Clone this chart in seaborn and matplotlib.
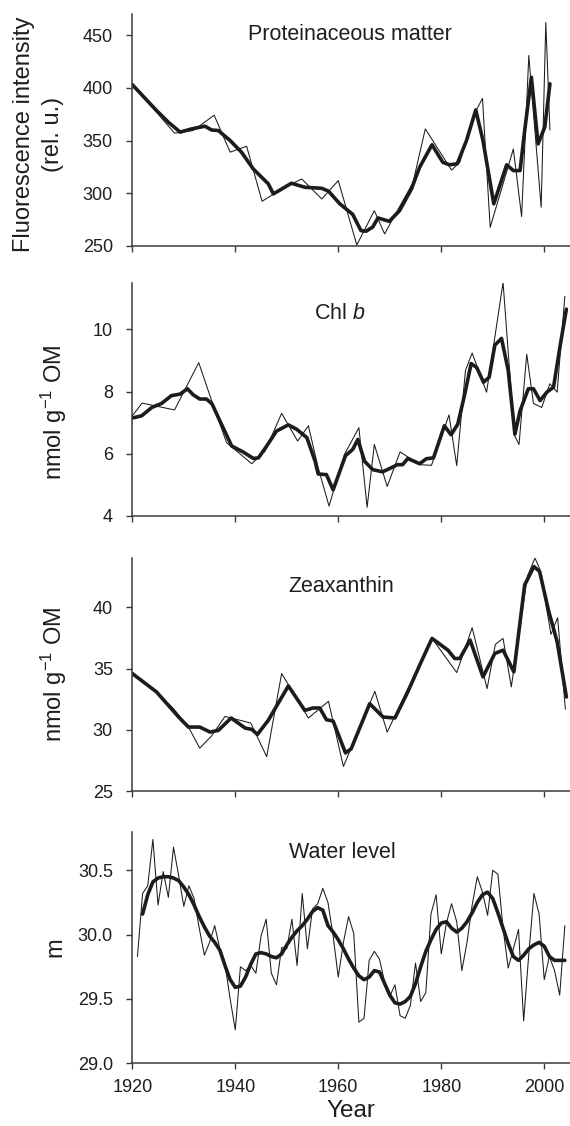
import numpy as np
import pandas as pd
import matplotlib
matplotlib.use("Agg")
import matplotlib.pyplot as plt
import seaborn as sns

# ---------------- data ----------------
# Proteinaceous matter (fluorescence intensity, rel. u.)
prot_raw_year = [1920, 1924.5, 1928.2, 1931.8, 1935.9, 1939.0, 1942.2, 1945.2, 1949.0, 1952.9,
                 1956.8, 1960.0, 1963.6, 1967.0, 1969.0, 1970.5, 1974.5, 1976.9, 1982.0, 1983.6,
                 1986.5, 1988.0, 1989.5, 1994.0, 1995.6, 1997.0, 1999.4, 2000.3, 2001.1]
prot_raw_val = [403, 378, 357, 359.5, 374, 339, 344.6, 292.4, 304, 313.6,
                294.6, 312, 251, 283.5, 261.4, 275, 310, 361, 322, 329.4,
                376, 390, 267.7, 342, 278, 430.7, 286.7, 462, 360]
prot_smooth_year = [1920, 1924.7, 1927.0, 1929.3, 1931.5, 1934.1, 1935.4, 1936.7, 1939.0, 1941.2,
                    1943.5, 1946.4, 1947.4, 1950.9, 1953.5, 1956.8, 1958.1, 1960.3, 1962.8, 1964.4,
                    1965.4, 1966.7, 1967.7, 1969.9, 1971.9, 1974.2, 1975.8, 1978.2, 1980.3, 1981.6,
                    1983.1, 1984.9, 1986.7, 1988.1, 1990.2, 1992.7, 1994.0, 1995.3, 1996.2, 1997.5,
                    1998.8, 2000.1, 2001.1]
prot_smooth_val = [403, 378.5, 367.4, 358, 361, 363.6, 360, 359.5, 350, 339,
                   323, 309, 299.4, 309.5, 305.7, 304.7, 302, 290, 280, 264.6,
                   264, 268, 276.6, 273.4, 283.5, 304, 324.7, 346, 329.4, 327,
                   328, 350, 379, 350, 290, 327, 321.5, 321.5, 359.5, 410,
                   346.8, 362.7, 403.8]

# Chl b (nmol g-1 OM)
chl_raw_year = [1920, 1921.9, 1928.2, 1932.9, 1935.3, 1938.3, 1943.2, 1945.8, 1949.0, 1952.1,
                1954.2, 1956.1, 1958.2, 1961.2, 1964.0, 1965.6, 1967.0, 1969.5, 1972.0, 1973.5,
                1975.8, 1978.1, 1981.5, 1983.0, 1984.7, 1986.0, 1988.8, 1992.0, 1994.2, 1995.1,
                1996.6, 1997.9, 1999.5, 2001.1, 2002.5, 2004.0]
chl_raw_val = [7.22, 7.63, 7.41, 8.93, 7.76, 6.36, 5.68, 6.09, 7.30, 6.41,
               6.90, 5.55, 4.32, 5.98, 6.84, 4.28, 6.30, 4.95, 6.06, 5.90,
               5.65, 5.63, 7.25, 5.62, 8.68, 9.24, 7.98, 11.51, 6.60, 6.30,
               9.20, 7.62, 7.49, 8.25, 7.98, 11.06]
chl_smooth_year = [1920, 1921.8, 1923.8, 1925.7, 1927.6, 1929.3, 1930.7, 1931.8, 1933.1, 1934.4,
                   1935.5, 1937.0, 1939.3, 1941.5, 1943.5, 1944.5, 1946.1, 1948.0, 1950.3, 1951.9,
                   1953.9, 1955.5, 1956.1, 1957.7, 1959.0, 1961.4, 1962.8, 1963.8, 1965.1, 1966.7,
                   1968.6, 1969.9, 1971.5, 1972.5, 1973.5, 1975.8, 1977.1, 1978.5, 1980.6, 1981.9,
                   1983.2, 1984.5, 1985.8, 1986.9, 1988.2, 1989.3, 1990.4, 1991.7, 1993.0, 1994.3,
                   1995.3, 1996.9, 1997.9, 1999.2, 2000.5, 2001.8, 2003.1, 2004.3]
chl_smooth_val = [7.15, 7.22, 7.49, 7.62, 7.87, 7.92, 8.09, 7.90, 7.76, 7.76,
                  7.60, 7.06, 6.25, 6.06, 5.85, 5.87, 6.25, 6.73, 6.93, 6.79,
                  6.52, 5.76, 5.35, 5.33, 4.84, 5.94, 6.14, 6.46, 5.76, 5.49,
                  5.42, 5.52, 5.65, 5.65, 5.85, 5.68, 5.84, 5.87, 6.90, 6.61,
                  6.95, 7.87, 8.90, 8.77, 8.30, 8.46, 9.49, 9.71, 8.68, 6.63,
                  7.38, 8.09, 8.09, 7.71, 7.98, 8.14, 9.49, 10.65]

# Zeaxanthin (nmol g-1 OM)
zea_raw_year = [1920, 1924.7, 1928.0, 1930.9, 1933.1, 1935.4, 1938.0, 1943.0, 1946.1, 1949.0,
                1954.2, 1958.1, 1961.0, 1967.1, 1969.5, 1978.2, 1983.0, 1986.0, 1988.9, 1990.5,
                1992.0, 1993.6, 1996.7, 1998.2, 1999.2, 2001.3, 2002.6, 2004.1]
zea_raw_val = [34.59, 33.09, 31.72, 30.22, 28.5, 29.5, 31.09, 30.55, 27.8, 34.59,
               30.96, 32.32, 27.0, 33.14, 29.81, 37.46, 34.67, 38.33, 33.36, 36.97,
               37.46, 33.5, 42.51, 44.02, 43.06, 37.79, 39.15, 31.67]
zea_smooth_year = [1920, 1924.7, 1929.0, 1930.9, 1933.1, 1935.1, 1936.7, 1939.2, 1941.9, 1943.2,
                   1944.3, 1946.4, 1950.3, 1953.5, 1955.1, 1956.4, 1957.7, 1959.0, 1961.4, 1962.5,
                   1966.1, 1968.7, 1971.0, 1973.5, 1975.8, 1978.2, 1981.3, 1982.6, 1983.6, 1985.6,
                   1988.1, 1990.4, 1992.0, 1994.1, 1996.2, 1998.0, 1999.1, 2000.8, 2002.5, 2004.3]
zea_smooth_val = [34.59, 33.09, 31.04, 30.22, 30.22, 29.81, 29.95, 30.96, 30.14, 30.03,
                  29.62, 30.77, 33.58, 31.58, 31.78, 31.78, 30.82, 30.71, 28.11, 28.44,
                  32.13, 31.04, 30.96, 33.09, 35.27, 37.46, 36.50, 35.82, 35.82, 37.32,
                  34.32, 36.23, 36.50, 34.73, 41.83, 43.33, 42.92, 39.78, 37.19, 32.68]

# Water level (m), annual
wl_year = list(range(1921, 2005))
wl_val = [29.83, 30.32, 30.38, 30.74, 30.23, 30.49, 30.29, 30.68, 30.46, 30.22,
          30.38, 30.28, 30.05, 29.84, 29.94, 30.07, 29.89, 29.77, 29.50, 29.26,
          29.75, 29.72, 29.76, 29.70, 29.99, 30.12, 29.70, 29.61, 29.90, 29.89,
          30.12, 29.76, 30.32, 29.89, 30.20, 30.24, 30.36, 30.25, 29.99, 29.67,
          29.94, 30.14, 30.01, 29.32, 29.35, 29.80, 29.87, 29.81, 29.63, 29.52,
          29.61, 29.37, 29.35, 29.45, 29.78, 29.48, 29.55, 30.16, 30.31, 29.85,
          30.09, 30.24, 30.10, 29.72, 29.94, 30.23, 30.45, 30.33, 30.15, 30.50,
          30.47, 30.05, 29.74, 29.89, 30.04, 29.33, 29.85, 30.32, 30.16, 29.65,
          29.83, 29.72, 29.53, 30.07]
wl_smooth_year = list(range(1922, 2005))
wl_smooth_val = [30.16, 30.31, 30.41, 30.44, 30.45, 30.45, 30.44, 30.42, 30.37, 30.31,
                 30.23, 30.14, 30.06, 29.99, 29.94, 29.88, 29.76, 29.65, 29.59, 29.60,
                 29.67, 29.77, 29.85, 29.86, 29.85, 29.83, 29.82, 29.85, 29.92, 29.98,
                 30.03, 30.07, 30.12, 30.18, 30.21, 30.19, 30.07, 30.02, 29.96, 29.89,
                 29.81, 29.74, 29.68, 29.65, 29.67, 29.72, 29.71, 29.62, 29.53, 29.47,
                 29.46, 29.48, 29.52, 29.62, 29.75, 29.87, 29.96, 30.04, 30.09, 30.10,
                 30.05, 30.02, 30.05, 30.10, 30.17, 30.25, 30.31, 30.33, 30.28, 30.17,
                 30.05, 29.93, 29.83, 29.80, 29.84, 29.89, 29.92, 29.94, 29.91, 29.83,
                 29.80, 29.80, 29.80]

titles = ["Proteinaceous matter", "Chl $\\it{b}$", "Zeaxanthin", "Water level"]
x_ticks = [1920, 1940, 1960, 1980, 2000]

# ---------------- style ----------------
sns.set_style("ticks")
plt.rcParams["font.family"] = ["Liberation Sans", "DejaVu Sans"]
plt.rcParams["mathtext.fontset"] = "custom"
plt.rcParams["mathtext.rm"] = "Liberation Sans"
plt.rcParams["mathtext.it"] = "Liberation Sans:italic"

W, H = 570, 1126
fig = plt.figure(figsize=(W / 100, H / 100), dpi=100)

left = 132.3 / W
width = 1.0 - left
# (top_px, bottom_px) of each panel
panel_px = [(14, 246), (282.7, 516), (558.3, 791), (831.7, 1063.3)]

panels = [
    (prot_raw_year, prot_raw_val, prot_smooth_year, prot_smooth_val,
     (250, 470), [250, 300, 350, 400, 450], "%d"),
    (chl_raw_year, chl_raw_val, chl_smooth_year, chl_smooth_val,
     (4, 11.5), [4, 6, 8, 10], "%d"),
    (zea_raw_year, zea_raw_val, zea_smooth_year, zea_smooth_val,
     (25, 44), [25, 30, 35, 40], "%d"),
    (wl_year, wl_val, wl_smooth_year, wl_smooth_val,
     (29.0, 30.8), [29.0, 29.5, 30.0, 30.5], "%.1f"),
]
title_pos = [(0.497, 0.912), (0.475, 0.868), (0.478, 0.880), (0.481, 0.910)]

axes_color = "#3a3a3a"
line_color = "#1c1c1c"
text_color = "#1e1e1e"
tick_fs = 13

for i, (ry, rv, sy, sv, ylim, yt, fmt) in enumerate(panels):
    t, b = panel_px[i]
    ax = fig.add_axes([left, 1 - b / H, width, (b - t) / H])
    raw = pd.DataFrame({"year": ry, "value": rv})
    sm = pd.DataFrame({"year": sy, "value": sv})
    sns.lineplot(data=raw, x="year", y="value", ax=ax, color=line_color,
                 linewidth=0.75, estimator=None, sort=False)
    sns.lineplot(data=sm, x="year", y="value", ax=ax, color=line_color,
                 linewidth=2.6, estimator=None, sort=False,
                 solid_joinstyle="round", solid_capstyle="round")
    ax.set_xlim(1920, 2005)
    ax.set_ylim(*ylim)
    ax.set_yticks(yt)
    ax.set_yticklabels([fmt % v for v in yt])
    ax.set_xticks(x_ticks)
    if i < 3:
        ax.set_xticklabels([])
        ax.set_xlabel("")
    else:
        ax.set_xticklabels([str(v) for v in x_ticks])
        ax.set_xlabel("Year", fontsize=17.5, labelpad=3, color=text_color)
    ax.set_ylabel("")
    sns.despine(ax=ax)
    for s in ["left", "bottom"]:
        ax.spines[s].set_color(axes_color)
        ax.spines[s].set_linewidth(1.1)
    ax.tick_params(axis="both", direction="out", length=4, width=1.0,
                   color=axes_color, labelsize=tick_fs, labelcolor=text_color)
    ax.tick_params(axis="y", pad=10)
    ax.tick_params(axis="x", pad=7)
    ax.text(title_pos[i][0], title_pos[i][1], titles[i], transform=ax.transAxes,
            ha="center", va="center", fontsize=15.5, color=text_color)
    ax.patch.set_alpha(0)

# y-axis labels
ylab_fs = 17
def ycenter(i):
    t, b = panel_px[i]
    return 1 - (t + b) / 2 / H

fig.text(24 / W, 1 - 134 / H, "Fluorescence intensity", rotation=90,
         ha="center", va="center", fontsize=ylab_fs, color=text_color)
fig.text(53 / W, 1 - 134 / H, "(rel. u.)", rotation=90,
         ha="center", va="center", fontsize=ylab_fs, color=text_color)
fig.text(54 / W, 1 - 412 / H, "nmol g$^{-1}$ OM", rotation=90,
         ha="center", va="center", fontsize=ylab_fs, color=text_color)
fig.text(54 / W, ycenter(2), "nmol g$^{-1}$ OM", rotation=90,
         ha="center", va="center", fontsize=ylab_fs, color=text_color)
fig.text(55 / W, ycenter(3), "m", rotation=90,
         ha="center", va="center", fontsize=ylab_fs, color=text_color)

fig.savefig("out.png", dpi=100, facecolor="white")
